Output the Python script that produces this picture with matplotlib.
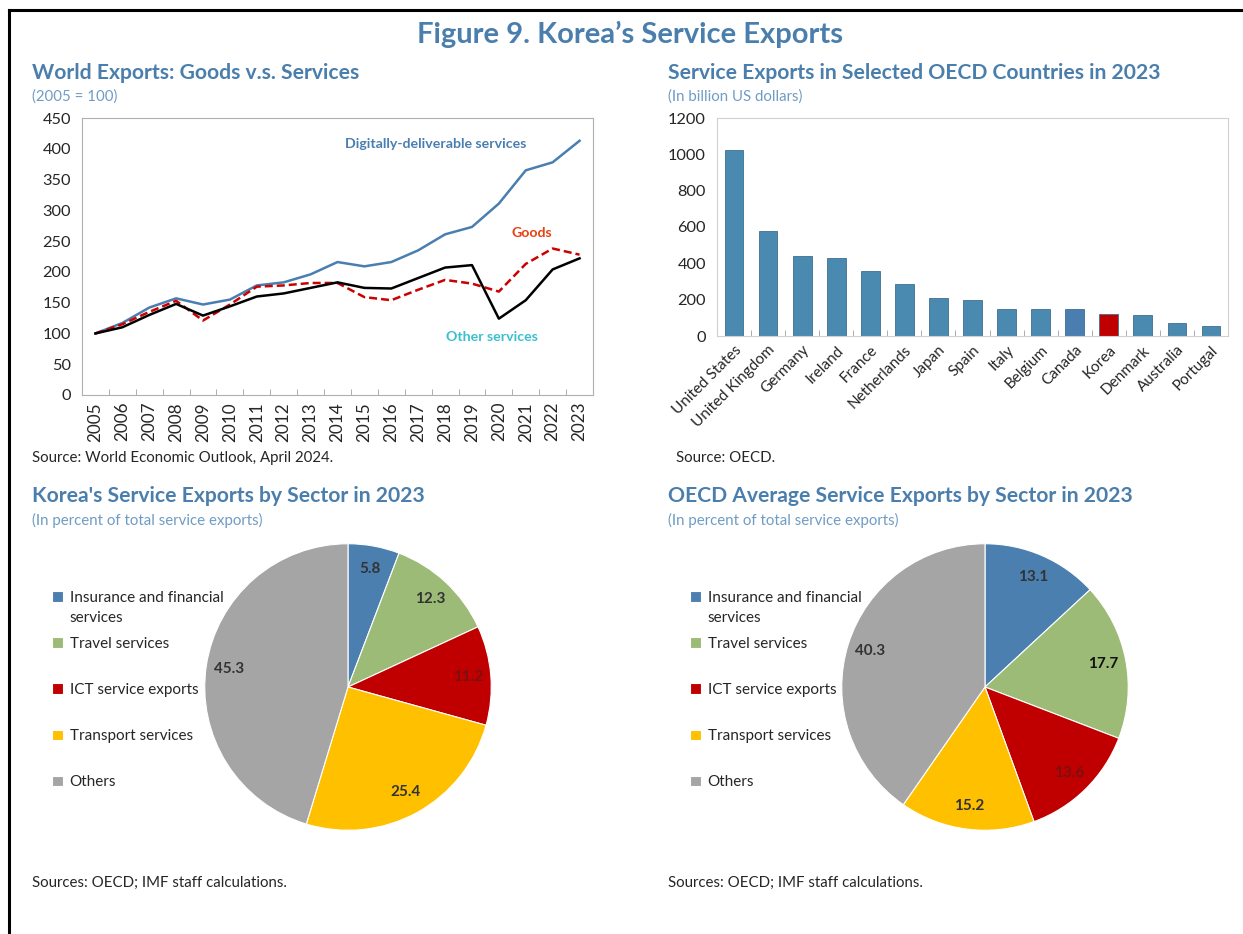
import numpy as np
import matplotlib
matplotlib.use("Agg")
import matplotlib.pyplot as plt
from matplotlib.lines import Line2D

plt.rcParams['font.family'] = ['Lato', 'DejaVu Sans']

# ---- data ----
years = [str(y) for y in range(2005, 2024)]
digital = [100, 117, 142, 157, 147, 155, 178, 183, 196, 216, 209, 216, 235, 261, 273, 311, 365, 378, 413]
goods = [100, 115, 135, 153, 121, 147, 176, 178, 182, 182, 159, 154, 171, 187, 181, 168, 213, 238, 228]
other = [100, 110, 130, 148, 129, 144, 160, 165, 174, 183, 174, 173, 190, 207, 211, 124, 154, 204, 222]

countries = ['United States', 'United Kingdom', 'Germany', 'Ireland', 'France', 'Netherlands',
             'Japan', 'Spain', 'Italy', 'Belgium', 'Canada', 'Korea', 'Denmark', 'Australia', 'Portugal']
exports_bn = [1025, 580, 440, 430, 357, 288, 207, 198, 150, 146, 146, 122, 113, 72, 55]

sectors = ['Insurance and financial', 'Travel services', 'ICT service exports',
           'Transport services', 'Others']
korea_share = [5.8, 12.3, 11.2, 25.4, 45.3]
oecd_share = [13.1, 17.7, 13.6, 15.2, 40.3]

# ---- style ----
BLUE_T = '#4a7eac'
SUB_T = '#6f9cc4'
BAR_C = '#4a8ab0'
PIE_C = ['#4a7fb0', '#9bbb77', '#c00000', '#ffc000', '#a5a5a5']
TXT = '#262626'

W, H = 1243, 934
fig = plt.figure(figsize=(W / 100, H / 100), dpi=100)


def px_axes(l, t, r, b):
    return fig.add_axes([l / W, 1 - b / H, (r - l) / W, (b - t) / H])


def ftxt(x, y, s, **kw):
    fig.text(x / W, 1 - y / H, s, **kw)


# frame lines (left and top)
fig.add_artist(Line2D([9 / W, 9 / W], [0, 1 - 10 / H], color='black', lw=2.2, transform=fig.transFigure))
fig.add_artist(Line2D([9 / W, 1], [1 - 10 / H, 1 - 10 / H], color='black', lw=2.2, transform=fig.transFigure))

ftxt(630, 34, "Figure 9. Korea\u2019s Service Exports", ha='center', va='center',
     fontsize=21, fontweight='bold', color=BLUE_T)

# panel titles
TS, SS, SRC = 15.2, 10.8, 10.8
ftxt(32, 73, "World Exports: Goods v.s. Services", va='center', fontsize=TS, fontweight='bold', color=BLUE_T)
ftxt(32, 97, "(2005 = 100)", va='center', fontsize=SS, color=SUB_T)
ftxt(668, 73, "Service Exports in Selected OECD Countries in 2023", va='center', fontsize=TS,
     fontweight='bold', color=BLUE_T)
ftxt(668, 97, "(In billion US dollars)", va='center', fontsize=SS, color=SUB_T)
ftxt(32, 496, "Korea's Service Exports by Sector in 2023", va='center', fontsize=TS,
     fontweight='bold', color=BLUE_T)
ftxt(32, 520, "(In percent of total service exports)", va='center', fontsize=SS, color=SUB_T)
ftxt(668, 496, "OECD Average Service Exports by Sector in 2023", va='center', fontsize=TS,
     fontweight='bold', color=BLUE_T)
ftxt(668, 520, "(In percent of total service exports)", va='center', fontsize=SS, color=SUB_T)

ftxt(32, 458, "Source: World Economic Outlook, April 2024.", va='center', fontsize=SRC, color=TXT)
ftxt(676, 458, "Source: OECD.", va='center', fontsize=SRC, color=TXT)
ftxt(32, 883, "Sources: OECD; IMF staff calculations.", va='center', fontsize=SRC, color=TXT)
ftxt(668, 883, "Sources: OECD; IMF staff calculations.", va='center', fontsize=SRC, color=TXT)

# ---- line chart ----
ax1 = px_axes(82, 118, 593, 395)
x = np.arange(len(years))
ax1.plot(x, digital, color='#4a7eb0', lw=1.8)
ax1.plot(x, goods, color='#cc0000', lw=1.8, ls=(0, (3.2, 1.6)))
ax1.plot(x, other, color='black', lw=1.8)
ax1.set_xlim(-0.5, len(years) - 0.5)
ax1.set_ylim(0, 450)
ax1.set_yticks(range(0, 451, 50))
ax1.set_xticks(x)
ax1.set_xticklabels(years, rotation=90, fontsize=12.3, color=TXT)
ax1.set_xticks(x[:-1] + 0.5, minor=True)
ax1.tick_params(axis='x', which='major', length=0, pad=5)
ax1.tick_params(axis='x', which='minor', direction='in', length=4, color='#a0a0a0')
ax1.tick_params(axis='y', length=0, labelsize=11.8, labelcolor=TXT, pad=8)
for s in ax1.spines.values():
    s.set_color('#b0b0b0')
ax1.text(0.692, 0.905, "Digitally-deliverable services", transform=ax1.transAxes, ha='center', va='center',
         fontsize=10.2, fontweight='bold', color='#4a7eb0')
ax1.text(0.881, 0.585, "Goods", transform=ax1.transAxes, ha='center', va='center',
         fontsize=10.2, fontweight='bold', color='#e8400f')
ax1.text(0.802, 0.21, "Other services", transform=ax1.transAxes, ha='center', va='center',
         fontsize=10.2, fontweight='bold', color='#3bbfcf')

# ---- bar chart ----
ax2 = px_axes(717, 118, 1228, 336)
bx = np.arange(len(countries))
colors = [BAR_C] * len(countries)
colors[countries.index('Korea')] = '#c00000'
colors[countries.index('Canada')] = '#4a7eb0'
ax2.bar(bx, exports_bn, width=0.55, color=colors, edgecolor='#3f6f8f', linewidth=0.6)
ax2.set_xlim(-0.5, len(countries) - 0.5)
ax2.set_ylim(0, 1200)
ax2.set_yticks(range(0, 1201, 200))
ax2.set_xticks(bx)
ax2.set_xticklabels(countries, rotation=45, ha='right', rotation_mode='anchor', fontsize=11, color=TXT)
ax2.set_xticks(bx[:-1] + 0.5, minor=True)
ax2.tick_params(axis='x', which='major', length=0, pad=5)
ax2.tick_params(axis='x', which='minor', direction='in', length=4, color='#a0a0a0')
ax2.tick_params(axis='y', length=0, labelsize=11.8, labelcolor=TXT, pad=8)
for s in ax2.spines.values():
    s.set_color('#d0d0d0')


# ---- pies ----
def draw_pie(cx, cy, shares, label_colors, legend_x):
    ax = px_axes(cx - 150, cy - 150, cx + 150, cy + 150)
    wedges, _, autotexts = ax.pie(shares, colors=PIE_C, startangle=90, counterclock=False,
                                  radius=0.955, autopct='%.1f', pctdistance=0.84,
                                  wedgeprops=dict(edgecolor='white', linewidth=0.8),
                                  textprops=dict(fontsize=11, fontweight='bold'))
    for t, c in zip(autotexts, label_colors):
        t.set_color(c)
    ax.set_xlim(-1, 1)
    ax.set_ylim(-1, 1)
    leg = ax.legend(wedges, sectors, loc='upper left', bbox_to_anchor=(legend_x / W, 1 - 591 / H),
                    bbox_transform=fig.transFigure, frameon=False, fontsize=11, labelcolor=TXT,
                    handlelength=0.7, handleheight=0.7, handletextpad=0.45, labelspacing=2.1,
                    borderaxespad=0, borderpad=0)
    return ax, leg


pies = [draw_pie(348, 687, korea_share, ['#333333', '#333333', '#7a1010', '#333333', '#333333'], 52),
        draw_pie(985, 687, oecd_share, ['#333333', '#111111', '#7a1010', '#333333', '#333333'], 690)]

# second line of the wrapped first legend label
fig.canvas.draw()
for ax, leg in pies:
    bb = leg.get_texts()[0].get_window_extent()
    fig.text(bb.x0 / W, (bb.y0 - 20) / H, "services", fontsize=11, color=TXT, va='bottom')

fig.savefig('out.png', dpi=100)
